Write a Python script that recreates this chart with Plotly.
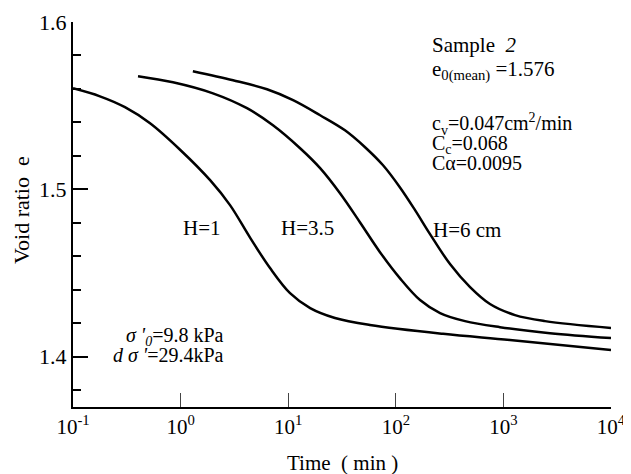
import plotly.graph_objects as go

# ---- data ----
t_h1 = [0.1, 0.178, 0.304, 0.52, 1.0, 1.88, 2.88, 4.42, 6.78, 10.4, 16.0, 27.2, 57.5, 275, 1150, 10000]
e_h1 = [1.5604, 1.5556, 1.5491, 1.5395, 1.5234, 1.5055, 1.4906, 1.4712, 1.4530, 1.4380, 1.4291, 1.4232, 1.4190, 1.4137, 1.4100, 1.4040]

t_h35 = [0.402, 0.849, 2.0, 4.14, 7.22, 12.9, 19.8, 30.3, 46.4, 71.3, 109, 168, 258, 440, 929, 2710, 10000]
e_h35 = [1.5676, 1.5640, 1.5574, 1.5485, 1.5383, 1.5246, 1.5127, 1.4977, 1.4804, 1.4625, 1.4470, 1.4339, 1.4261, 1.4213, 1.4177, 1.4141, 1.4112]

t_h6 = [1.30, 3.07, 6.35, 11.1, 19.8, 33.7, 51.8, 76.1, 109, 151, 208, 319, 490, 750, 1282, 2438, 10000]
e_h6 = [1.5706, 1.5652, 1.5598, 1.5533, 1.5443, 1.5353, 1.5252, 1.5144, 1.5013, 1.4876, 1.4733, 1.4554, 1.4416, 1.4315, 1.4249, 1.4213, 1.4172]

x_tickvals = [0.1, 1, 10, 100, 1000, 10000]
x_ticktext = ["10<sup>-1</sup>", "10<sup>0</sup>", "10<sup>1</sup>", "10<sup>2</sup>", "10<sup>3</sup>", "10<sup>4</sup>"]
y_tickvals = [1.4, 1.5, 1.6]
y_ticktext = ["1.4", "1.5", "1.6"]
y_minor = [1.38, 1.42, 1.44, 1.46, 1.48, 1.52, 1.54, 1.56, 1.58]

FONT = "Liberation Serif"

fig = go.Figure()
for t, e in [(t_h1, e_h1), (t_h35, e_h35), (t_h6, e_h6)]:
    fig.add_trace(go.Scatter(x=t, y=e, mode="lines",
                             line=dict(color="black", width=2.5, shape="spline", smoothing=1.0),
                             showlegend=False, hoverinfo="skip"))

# page body has an 8px margin; figure sized / placed to compensate
OFF = 8
W, H = 631 - OFF, 474 - OFF
L, R, T, B = 73 - OFF, 20, 22 - OFF, 67
pw, ph = W - L - R, H - T - B

def px(x):
    return (x - OFF - L) / pw

def py(y):
    return (H - B - (y - OFF)) / ph

ann = []
def add(text, x, y, xanchor="left", size=21, angle=0):
    ann.append(dict(text=text, x=px(x), y=py(y), xref="paper", yref="paper",
                    xanchor=xanchor, yanchor="middle", showarrow=False, textangle=angle,
                    font=dict(family=FONT, size=size, color="black")))

add("Sample  <i>2</i>", 430, 45)
add("e<sub>0(mean)</sub> =1.576", 430, 70)
add("c<sub>v</sub>=0.047cm<sup>2</sup>/min", 430, 124, size=20)
add("C<sub>c</sub>=0.068", 430, 144, size=20)
add("C\u03b1=0.0095", 430, 163, size=20)
add("H=6 cm", 431, 230)
add("H=1", 181, 228)
add("H=3.5", 279, 228)
add("<i>\u03c3 '<sub>0</sub></i>=9.8 kPa", 226, 336, xanchor="right", size=20)
add("<i>d \u03c3 '</i>=29.4kPa", 226, 355, xanchor="right", size=20)
add("Void ratio\u00a0\u00a0e", 21, 210, xanchor="center", size=22, angle=-90)
add("Time\u00a0\u00a0( min )", 342, 463, xanchor="center", size=21)

fig.update_layout(
    width=W, height=H,
    margin=dict(l=L, r=R, t=T, b=B, pad=0, autoexpand=False),
    paper_bgcolor="white", plot_bgcolor="white",
    font=dict(family=FONT, size=21, color="black"),
    annotations=ann,
    xaxis=dict(type="log", range=[-1, 4], showline=True, linewidth=2, linecolor="black",
               ticks="inside", ticklen=14, tickwidth=1, tickcolor="#444",
               tickmode="array", tickvals=x_tickvals, ticktext=x_ticktext,
               showgrid=False, zeroline=False, automargin=False,
               tickfont=dict(family=FONT, size=21, color="black")),
    yaxis=dict(range=[1.37, 1.6], showline=True, linewidth=2, linecolor="black",
               ticks="inside", ticklen=15, tickwidth=1.5, tickcolor="black",
               tickmode="array", tickvals=y_tickvals, ticktext=y_ticktext,
               minor=dict(tickmode="array", tickvals=y_minor, ticks="inside", ticklen=8,
                          tickwidth=1.5, tickcolor="black"),
               showgrid=False, zeroline=False, automargin=False,
               tickfont=dict(family=FONT, size=22, color="black")),
)

fig.write_html("out.html")
